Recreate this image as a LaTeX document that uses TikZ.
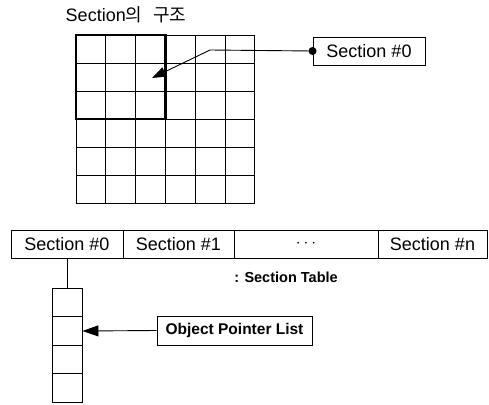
\documentclass[tikz,border=0pt]{standalone}
\usepackage{fontspec}
\setmainfont{Liberation Sans}
\newfontfamily\krfont{Noto Sans CJK KR}
\usetikzlibrary{arrows.meta}
\begin{document}
\begin{tikzpicture}[x=1pt,y=-1pt,
  thinline/.style={line width=0.9pt},
  cellbox/.style={draw,line width=0.9pt,inner sep=0pt,minimum height=28pt,font=\fontsize{18}{20}\selectfont},
  listcell/.style={draw,line width=0.9pt,inner sep=0pt,minimum width=30pt,minimum height=28.5pt},
  bigtip/.style={-{Triangle[length=16pt,width=11pt]}},
  smalltip/.style={-{Triangle[length=14pt,width=10pt]}}]
\useasboundingbox (0,0) rectangle (489,404);
% title
\node[inner sep=0pt,font=\fontsize{18}{20}\selectfont] (title) at (126,15) {Section{\krfont 의\hspace{0.6em}구조}};
% grid
\foreach \i in {0,...,6} {
  \draw[thinline] (76+29.8*\i,35) -- (76+29.8*\i,203);
  \draw[thinline] (76,35+28*\i) -- (255,35+28*\i);
}
\draw[line width=2.6pt] (76,35) rectangle (165.4,119);
% Section #0 box
\node[cellbox,minimum width=112pt] (s0) at (369,51) {Section \#0};
\coordinate (bend) at (210,50);
\coordinate (tip) at (152,78);
\draw[thinline,smalltip] (s0.west) -- (bend) -- (tip);
\fill (s0.west) circle (4pt);
% section table
\node[cellbox,minimum width=112pt] (t0) at (67,244) {Section \#0};
\node[cellbox,minimum width=111pt] (t1) at (178.5,244) {Section \#1};
\node[cellbox,minimum width=144pt] (t2) at (306,244) {$\cdots$};
\node[cellbox,minimum width=109pt] (t3) at (432.5,244) {Section \#n};
\node[font=\bfseries\fontsize{14.5}{17}\selectfont] (cap) at (286,277) {: Section Table};
% list
\node[listcell] (c1) at (67,302.5) {};
\node[listcell] (c2) at (67,331) {};
\node[listcell] (c3) at (67,359.5) {};
\node[listcell] (c4) at (67,388) {};
\draw[thinline] (t0.south) -- (c1.north);
\node[draw,line width=0.9pt,inner sep=0pt,minimum width=155pt,minimum height=29pt,font=\bfseries\fontsize{15.5}{18}\selectfont] (opl) at (234.5,330.5) {Object Pointer List};
\draw[thinline,bigtip] (opl.west) -- (c2.east);
\end{tikzpicture}
\end{document}
